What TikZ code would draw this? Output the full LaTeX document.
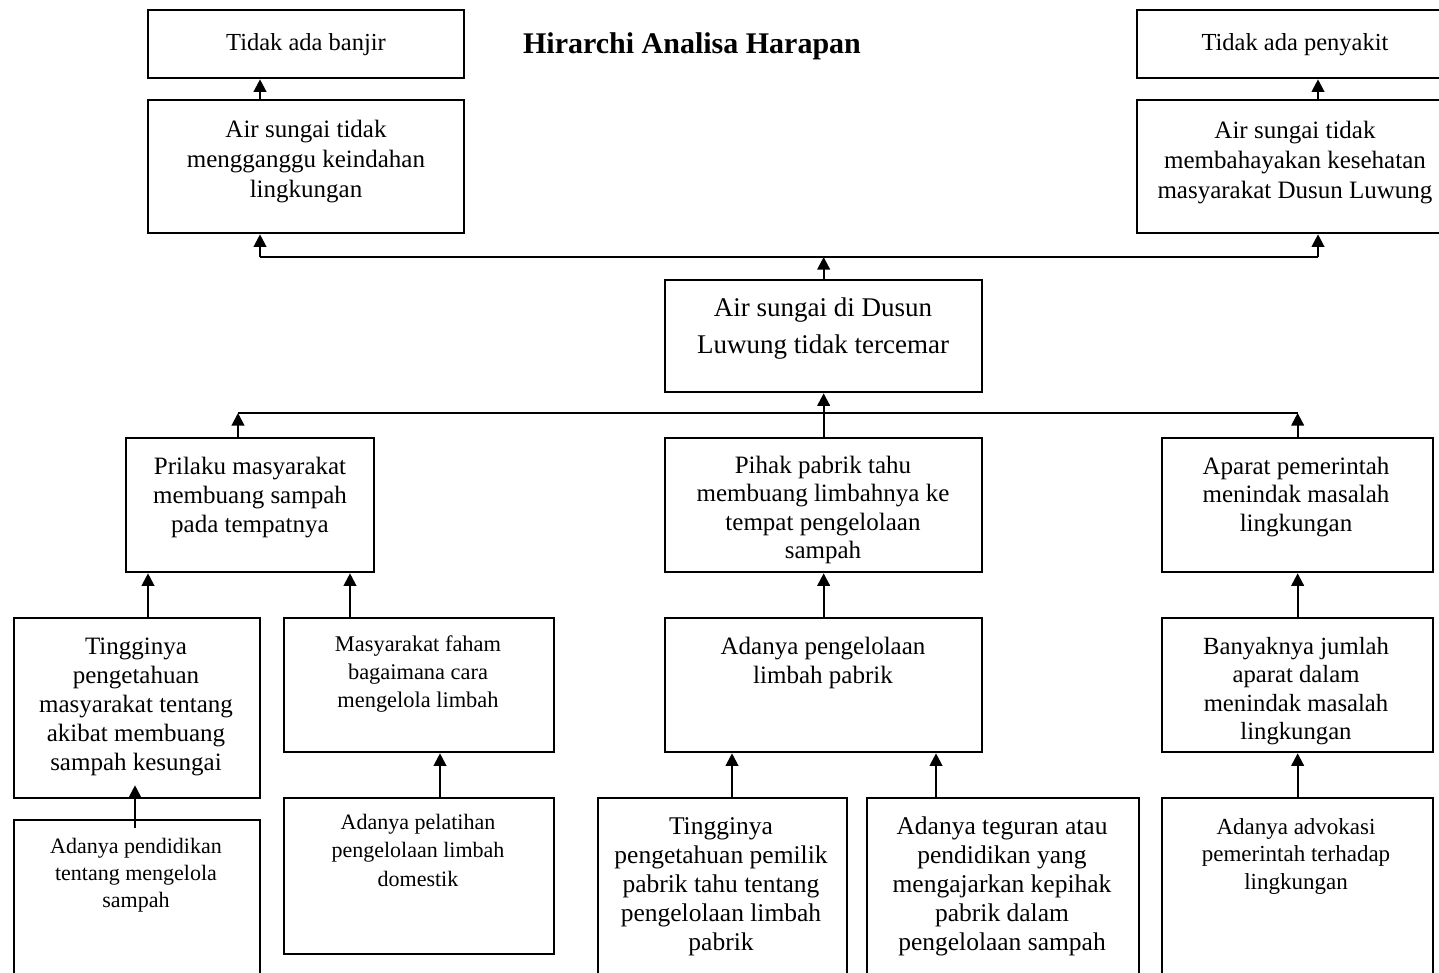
\documentclass[tikz,border=0pt]{standalone}
\usepackage{fontspec}
\setmainfont{Liberation Serif}
\usetikzlibrary{arrows.meta}
\newcommand{\tl}[1]{\begin{tabular}[t]{@{}c@{}}#1\end{tabular}}
\tikzset{
  box/.style={draw, line width=2.3pt, rectangle, inner sep=0pt, anchor=north west},
  txt/.style={anchor=base, inner sep=0pt},
  ln/.style={line width=2.1pt},
  arr/.style={line width=2.1pt, -{Triangle[width=12.5pt,length=12.5pt]}},
}
\begin{document}
\begin{tikzpicture}[x=1pt,y=-1pt]
\useasboundingbox (0,0) rectangle (1439,972);
\clip (0,0) rectangle (1439,972);
% boxes
\node[box, minimum width=316pt, minimum height=68pt]  (b1)   at (147,9) {};
\node[box, minimum width=316pt, minimum height=133pt] (b2)   at (147,99) {};
\node[box, minimum width=316pt, minimum height=68pt]  (b3)   at (1136,9) {};
\node[box, minimum width=316pt, minimum height=133pt] (b4)   at (1136,99) {};
\node[box, minimum width=317pt, minimum height=112pt] (root) at (664,279) {};
\node[box, minimum width=248pt, minimum height=134pt] (pri)  at (125,437) {};
\node[box, minimum width=317pt, minimum height=134pt] (pih)  at (664,437) {};
\node[box, minimum width=271pt, minimum height=134pt] (apa)  at (1161,437) {};
\node[box, minimum width=246pt, minimum height=180pt] (tin)  at (13,617) {};
\node[box, minimum width=270pt, minimum height=134pt] (fah)  at (283,617) {};
\node[box, minimum width=317pt, minimum height=134pt] (peng) at (664,617) {};
\node[box, minimum width=271pt, minimum height=134pt] (bany) at (1161,617) {};
\node[box, minimum width=246pt, minimum height=200pt] (pend) at (13,819) {};
\node[box, minimum width=270pt, minimum height=156pt] (pela) at (283,797) {};
\node[box, minimum width=249pt, minimum height=200pt] (pemi) at (597,797) {};
\node[box, minimum width=272pt, minimum height=200pt] (tegu) at (866,797) {};
\node[box, minimum width=271pt, minimum height=200pt] (advo) at (1161,797) {};
% texts
\node[txt, font=\bfseries\fontsize{30}{36}\selectfont] (title) at (692,53) {Hirarchi Analisa Harapan};
\node[txt, font=\fontsize{24.5}{30}\selectfont] (t1) at (306,50) {Tidak ada banjir};
\node[txt, font=\fontsize{25}{30}\selectfont] (t2) at (306,137) {\tl{Air sungai tidak\\mengganggu keindahan\\lingkungan}};
\node[txt, font=\fontsize{24.5}{30}\selectfont] (t3) at (1295,50) {Tidak ada penyakit};
\node[txt, font=\fontsize{25}{30}\selectfont] (t4) at (1295,138) {\tl{Air sungai tidak\\membahayakan kesehatan\\masyarakat Dusun Luwung}};
\node[txt, font=\fontsize{27}{37}\selectfont] (t5) at (823,316) {\tl{Air sungai di Dusun\\Luwung tidak tercemar}};
\node[txt, font=\fontsize{25}{29}\selectfont] (t6) at (250,474) {\tl{Prilaku masyarakat\\membuang sampah\\pada tempatnya}};
\node[txt, font=\fontsize{25}{28.5}\selectfont] (t7) at (823,473) {\tl{Pihak pabrik tahu\\membuang limbahnya ke\\tempat pengelolaan\\sampah}};
\node[txt, font=\fontsize{25}{28.5}\selectfont] (t8) at (1296,474) {\tl{Aparat pemerintah\\menindak masalah\\lingkungan}};
\node[txt, font=\fontsize{25}{29}\selectfont] (t9) at (136,654) {\tl{Tingginya\\pengetahuan\\masyarakat tentang\\akibat membuang\\sampah kesungai}};
\node[txt, font=\fontsize{22.4}{28}\selectfont] (t10) at (418,651) {\tl{Masyarakat faham\\bagaimana cara\\mengelola limbah}};
\node[txt, font=\fontsize{25}{29}\selectfont] (t11) at (823,654) {\tl{Adanya pengelolaan\\limbah pabrik}};
\node[txt, font=\fontsize{24.7}{28.5}\selectfont] (t12) at (1296,654) {\tl{Banyaknya jumlah\\aparat dalam\\menindak masalah\\lingkungan}};
\node[txt, font=\fontsize{22}{27}\selectfont] (t13) at (136,853) {\tl{Adanya pendidikan\\tentang mengelola\\sampah}};
\node[txt, font=\fontsize{22}{28.5}\selectfont] (t14) at (418,829) {\tl{Adanya pelatihan\\pengelolaan limbah\\domestik}};
\node[txt, font=\fontsize{25.5}{29}\selectfont] (t15) at (721,834) {\tl{Tingginya\\pengetahuan pemilik\\pabrik tahu tentang\\pengelolaan limbah\\pabrik}};
\node[txt, font=\fontsize{25.5}{29}\selectfont] (t16) at (1002,834) {\tl{Adanya teguran atau\\pendidikan yang\\mengajarkan kepihak\\pabrik dalam\\pengelolaan sampah}};
\node[txt, font=\fontsize{23}{27.5}\selectfont] (t17) at (1296,834) {\tl{Adanya advokasi\\pemerintah terhadap\\lingkungan}};
% junction coordinates
\coordinate (jt) at (823,257);
\coordinate (jm) at (823,413);
% top level
\draw[arr] ([xshift=113pt]b2.north west) -- ([xshift=113pt]b1.south west);
\draw[arr] ([xshift=182pt]b4.north west) -- ([xshift=182pt]b3.south west);
\coordinate (a2) at ([xshift=113pt]b2.south west);
\coordinate (a4) at ([xshift=182pt]b4.south west);
\draw[ln] (a2 |- jt) -- (a4 |- jt);
\draw[arr] (a2 |- jt) -- (a2);
\draw[arr] (a4 |- jt) -- (a4);
\draw[arr] (root.north) -- (root.north |- jt);
% middle level
\draw[arr] (pih.north) -- (root.south);
\coordinate (ap) at ([xshift=113pt]pri.north west);
\coordinate (aa) at (apa.north);
\draw[ln] (ap |- jm) -- (aa |- jm);
\draw[arr] (ap) -- (ap |- jm);
\draw[arr] (aa) -- (aa |- jm);
% lower levels
\coordinate (c1) at ([xshift=135pt]tin.north west);
\draw[arr] (c1) -- (c1 |- pri.south);
\coordinate (c2) at ([xshift=67pt]fah.north west);
\draw[arr] (c2) -- (c2 |- pri.south);
\draw[arr] ([shift={(122pt,-9pt)}]pend.north west) -- ([shift={(122pt,14pt)}]tin.south west);
\coordinate (c3) at ([xshift=157pt]pela.north west);
\draw[arr] (c3) -- (c3 |- fah.south);
\draw[arr] (peng.north) -- (pih.south);
\coordinate (c4) at ([xshift=135pt]pemi.north west);
\draw[arr] (c4) -- (c4 |- peng.south);
\coordinate (c5) at ([xshift=70pt]tegu.north west);
\draw[arr] (c5) -- (c5 |- peng.south);
\draw[arr] (bany.north) -- (apa.south);
\draw[arr] (advo.north) -- (bany.south);
\end{tikzpicture}
\end{document}
